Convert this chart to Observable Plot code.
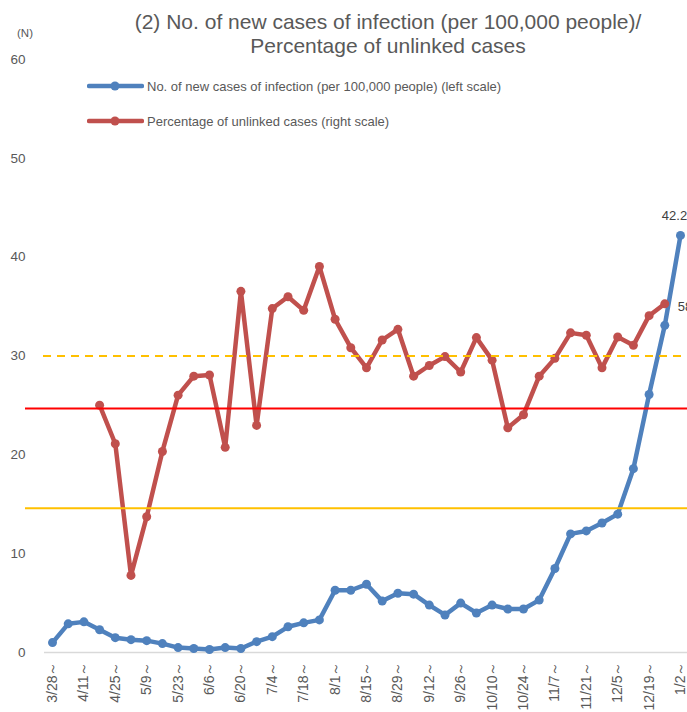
<!DOCTYPE html>
<html>
<head>
<meta charset="utf-8">
<script src="https://cdn.jsdelivr.net/npm/d3@7"></script>
<script src="https://cdn.jsdelivr.net/npm/@observablehq/plot@0.6"></script>
<style>
  html, body { margin: 0; padding: 0; background: #fff; }
  #wrap { position: relative; width: 687px; height: 712px; overflow: hidden; font-family: "Liberation Sans", Arial, sans-serif; color: #595959; }
  #title { position: absolute; left: 388px; top: 10px; transform: translateX(-50%); white-space: nowrap; text-align: center; font-size: 21px; line-height: 24px; color: #595959; }
  #unit { position: absolute; left: 17px; top: 27px; font-size: 11.5px; color: #595959; }
  .leg { position: absolute; left: 87px; height: 16px; display: flex; align-items: center; font-size: 13px; color: #595959; white-space: nowrap; }
  .leg svg { display: block; margin-right: 3px; }
  #chart { position: absolute; left: 0; top: 0; }
</style>
</head>
<body>
<div id="wrap">
  <div id="chart"></div>
  <div id="title"></div>
  <div id="unit"></div>
  <div id="legend"></div>
</div>
<script>
// ---- data ----
const titleLines = ["(2) No. of new cases of infection (per 100,000 people)/", "Percentage of unlinked cases"];
const unitLabel = "(N)";
const weeks = ["3/28","4/4","4/11","4/18","4/25","5/2","5/9","5/16","5/23","5/30",
               "6/6","6/13","6/20","6/27","7/4","7/11","7/18","7/25","8/1","8/8",
               "8/15","8/22","8/29","9/5","9/12","9/19","9/26","10/3","10/10","10/17",
               "10/24","10/31","11/7","11/14","11/21","11/28","12/5","12/12","12/19","12/26","1/2"];
const tickWeeks = ["3/28","4/11","4/25","5/9","5/23","6/6","6/20","7/4","7/18","8/1","8/15",
                   "8/29","9/12","9/26","10/10","10/24","11/7","11/21","12/5","12/19","1/2"];
const tickSuffix = "～";
// New cases per 100,000 people (left scale)
const newCases = [1.0, 2.9, 3.1, 2.3, 1.5, 1.3, 1.2, 0.9, 0.5, 0.4,
                  0.3, 0.5, 0.4, 1.1, 1.6, 2.6, 3.0, 3.3, 6.3, 6.3,
                  6.9, 5.2, 6.0, 5.9, 4.8, 3.8, 5.0, 4.0, 4.8, 4.4,
                  4.4, 5.3, 8.5, 12.0, 12.3, 13.1, 14.0, 18.6, 26.1, 33.1, 42.2];
// Percentage of unlinked cases (right scale, 0-100%)
const unlinkedPct = [null, null, null, 41.7, 35.2, 13.0, 22.9, 33.9, 43.4, 46.6,
                     46.8, 34.6, 60.9, 38.3, 58.0, 60.0, 57.7, 65.1, 56.2, 51.4,
                     48.0, 52.7, 54.5, 46.6, 48.4, 49.9, 47.3, 53.1, 49.3, 37.9,
                     40.1, 46.6, 49.6, 53.9, 53.5, 48.0, 53.2, 51.8, 56.8, 58.8, null];
const leftTicks = [0, 10, 20, 30, 40, 50, 60];
const leftMax = 60;
const rightMax = 100;
// Reference lines (left-scale values)
const dashedLevel = [30];
const redLevel = [24.7];
const yellowLevel = [14.6];
const casesEndLabel = "42.2";
const pctEndLabel = "58.8%";
const legendLabels = ["No. of new cases of infection (per 100,000 people) (left scale)",
                      "Percentage of unlinked cases (right scale)"];

const blue = "#4F81BD", red = "#C0504D";

// table built from the arrays (x = week index)
const rows = weeks.map((w, i) => ({
  i,
  week: w,
  cases: newCases[i],
  pctLeft: unlinkedPct[i] == null ? null : unlinkedPct[i] * leftMax / rightMax
}));
const lastCases = rows.filter(d => d.cases != null).slice(-1);
const lastPct = rows.filter(d => d.pctLeft != null).slice(-1);
const tickIdx = tickWeeks.map(w => weeks.indexOf(w));

const W = 687, H = 712, mL = 52, mR = 7, mT = 59, mB = 60;
const chart = Plot.plot({
  width: W,
  height: H,
  marginTop: mT,
  marginBottom: mB,
  marginLeft: mL,
  marginRight: mR,
  style: { fontFamily: "'Liberation Sans', Arial, sans-serif", color: "#595959", background: "transparent" },
  x: { type: "linear", domain: [0, weeks.length - 1] },
  y: { domain: [0, leftMax] },
  marks: [
    Plot.ruleY([0], { stroke: "#d9d9d9", strokeWidth: 1.5, insetLeft: -8, insetRight: -7 }),
    Plot.axisY({ ticks: leftTicks, tickSize: 0, tickPadding: 27, fontSize: 13.5, label: null }),
    Plot.axisX({ ticks: tickIdx, tickFormat: i => weeks[i] + tickSuffix, tickRotate: -90, tickSize: 0, tickPadding: 9, fontSize: 14, label: null }),
    Plot.line(rows, { x: "i", y: "cases", stroke: blue, strokeWidth: 4.5, strokeLinejoin: "round", strokeLinecap: "round" }),
    Plot.dot(rows, { x: "i", y: "cases", fill: blue, r: 4.5 }),
    Plot.line(rows, { x: "i", y: "pctLeft", stroke: red, strokeWidth: 4.5, strokeLinejoin: "round", strokeLinecap: "round" }),
    Plot.dot(rows, { x: "i", y: "pctLeft", fill: red, r: 4.5 }),
    Plot.ruleY(dashedLevel, { stroke: "#FFC000", strokeWidth: 2, strokeDasharray: "8,6", insetLeft: -9, insetRight: -7 }),
    Plot.ruleY(redLevel, { stroke: "#FF0000", strokeWidth: 2, insetLeft: -27, insetRight: -7 }),
    Plot.ruleY(yellowLevel, { stroke: "#FFC000", strokeWidth: 2, insetLeft: -27, insetRight: -7 }),
    Plot.text(lastCases, { x: "i", y: "cases", text: () => casesEndLabel, dy: -20, dx: -6, fontSize: 13, fill: "#404040" }),
    Plot.text(lastPct, { x: "i", y: "pctLeft", text: () => pctEndLabel, dx: 13, dy: 3, textAnchor: "start", fontSize: 13, fill: "#404040" })
  ]
});
document.getElementById("chart").appendChild(chart);

document.getElementById("title").innerHTML = titleLines.join("<br>");
document.getElementById("unit").textContent = unitLabel;

const legendColors = [blue, red];
const legendTops = [78, 113];
const legendEl = document.getElementById("legend");
legendLabels.forEach((lab, i) => {
  const div = document.createElement("div");
  div.className = "leg";
  div.style.top = legendTops[i] + "px";
  div.innerHTML = `<svg width="57" height="12"><line x1="2" y1="6" x2="55" y2="6" stroke="${legendColors[i]}" stroke-width="4.5" stroke-linecap="round"/><circle cx="28" cy="6" r="4.5" fill="${legendColors[i]}"/></svg><span>${lab}</span>`;
  legendEl.appendChild(div);
});
</script>
</body>
</html>
